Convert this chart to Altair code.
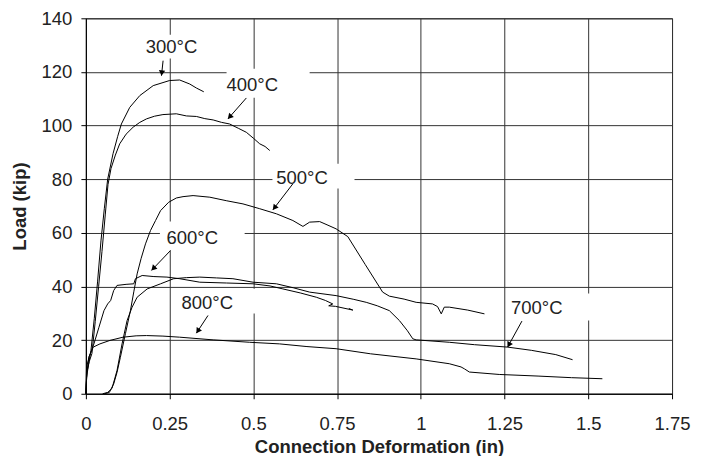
import math
import altair as alt
import pandas as pd

FONT = "Liberation Sans"
FS = 18.5
W, H = 587, 376
XMAX, YMAX = 1.75, 140

# ---- curve data ----
x300 = [0, 0.002, 0.008, 0.015, 0.025, 0.035, 0.045, 0.055, 0.065, 0.081, 0.095, 0.106, 0.131, 0.161, 0.201, 0.25, 0.28, 0.31, 0.33, 0.352]
y300 = [0, 6, 11, 16, 28, 42, 57, 69, 80, 89.5, 96, 100.6, 106.8, 111.2, 114.9, 116.8, 117.0, 115.5, 114.0, 112.6]

x400 = [0, 0.003, 0.01, 0.018, 0.028, 0.038, 0.048, 0.058, 0.066, 0.075, 0.088, 0.101, 0.12, 0.141, 0.161, 0.181, 0.205, 0.23, 0.27, 0.3, 0.33, 0.355, 0.38, 0.405, 0.429, 0.455, 0.479, 0.5, 0.519, 0.535, 0.549]
y400 = [0, 8, 12, 15, 27, 40, 53, 67, 78, 84, 89, 93.2, 96.8, 99.4, 101.2, 102.5, 103.5, 104.1, 104.4, 103.6, 103.4, 102.6, 102.1, 101.2, 100.6, 99.0, 97.5, 95.3, 93.2, 92.2, 90.7]

x500 = [0.055, 0.07, 0.083, 0.093, 0.103, 0.118, 0.133, 0.143, 0.153, 0.165, 0.178, 0.193, 0.208, 0.223, 0.247, 0.27, 0.29, 0.32, 0.37, 0.419, 0.469, 0.519, 0.569, 0.618, 0.648, 0.668, 0.698, 0.72, 0.747, 0.782, 0.834, 0.886, 0.906, 0.95, 0.986, 1.035, 1.05, 1.061, 1.07, 1.085, 1.14, 1.19]
y500 = [0, 0.5, 3.7, 8, 13.6, 22.4, 31, 38, 44.7, 50.5, 55.9, 60.9, 64.6, 68.3, 71.4, 73.0, 73.5, 73.9, 73.3, 72.0, 70.8, 69.0, 67.1, 64.6, 62.4, 64.0, 64.2, 63.0, 61.5, 58.6, 48.2, 37.9, 36.4, 35.3, 34.1, 33.5, 32.5, 29.8, 32.3, 32.3, 31.2, 29.8]

x600 = [0, 0.003, 0.009, 0.024, 0.039, 0.054, 0.065, 0.074, 0.083, 0.093, 0.12, 0.143, 0.148, 0.168, 0.203, 0.242, 0.28, 0.34, 0.42, 0.499, 0.55, 0.588, 0.64, 0.688, 0.715, 0.737, 0.725, 0.745, 0.797, 0.785]
y600 = [0, 8, 13.6, 18.6, 24.8, 31, 33.5, 34.8, 38.5, 40.4, 40.8, 41.0, 42.9, 44.1, 43.7, 43.5, 42.9, 41.6, 41.3, 41.0, 40.2, 39.1, 37.6, 36.0, 34.8, 33.5, 32.8, 32.6, 31.2, 31.8]

x700 = [0.05, 0.065, 0.078, 0.093, 0.108, 0.123, 0.138, 0.153, 0.183, 0.223, 0.262, 0.3, 0.34, 0.39, 0.439, 0.499, 0.569, 0.62, 0.668, 0.747, 0.8, 0.837, 0.87, 0.906, 0.936, 0.96, 0.976, 0.986, 1.085, 1.16, 1.259, 1.33, 1.403, 1.453]
y700 = [0, 0.5, 2, 8.7, 18.6, 27.3, 32.3, 36.0, 39.1, 41.0, 42.9, 43.3, 43.5, 43.2, 42.9, 41.6, 41.0, 39.5, 37.9, 36.6, 35.2, 34.1, 32.8, 31.0, 27.3, 23.5, 20.5, 20.1, 19.2, 18.3, 17.4, 16.2, 14.6, 12.7]

x800 = [0, 0.002, 0.01, 0.022, 0.042, 0.072, 0.111, 0.15, 0.181, 0.23, 0.28, 0.38, 0.489, 0.578, 0.66, 0.747, 0.85, 0.986, 1.085, 1.12, 1.13, 1.145, 1.234, 1.35, 1.45, 1.542]
y800 = [0, 9.9, 14, 17.4, 18.6, 19.9, 21.1, 21.6, 21.7, 21.5, 21.1, 20.1, 19.2, 18.6, 17.6, 16.8, 14.9, 13.0, 11.2, 10.0, 9.3, 8.1, 7.2, 6.6, 6.0, 5.6]

series = [("300", x300, y300), ("400", x400, y400), ("500", x500, y500),
          ("600", x600, y600), ("700", x700, y700), ("800", x800, y800)]

# ---- annotations ----
lab_text = ["300°C", "400°C", "500°C", "600°C", "700°C", "800°C"]
lab_x = [0.2558, 0.4969, 0.6454, 0.3175, 1.3460, 0.3622]
lab_y = [126.9, 113.0, 78.3, 55.9, 29.8, 31.7]
box_x1 = [0.179, 0.420, 0.557, 0.221, 1.255, 0.271]
box_x2 = [0.429, 0.668, 0.802, 0.474, 1.509, 0.519]
box_y1 = [125.0, 110.4, 76.5, 53.4, 27.3, 29.9]
box_y2 = [133.9, 121.2, 85.8, 64.2, 37.4, 39.2]
arr_sx = [0.2305, 0.4791, 0.618, 0.2525, 1.3019, 0.3646]
arr_sy = [124.2, 110.3, 78.3, 53.4, 27.1, 29.2]
arr_tx = [0.2257, 0.4242, 0.5584, 0.1959, 1.259, 0.330]
arr_ty = [118.6, 102.5, 68.6, 46.0, 17.4, 22.6]

x_ticks = [0, 0.25, 0.5, 0.75, 1, 1.25, 1.5, 1.75]
y_ticks = [0, 20, 40, 60, 80, 100, 120, 140]

rows = []
for name, xs, ys in series:
    for i, (xv, yv) in enumerate(zip(xs, ys)):
        rows.append({"series": name, "i": i, "x": xv, "y": yv})
df = pd.DataFrame(rows)

ann = pd.DataFrame({"t": lab_text, "lx": lab_x, "ly": lab_y,
                    "bx1": box_x1, "bx2": box_x2, "by1": box_y1, "by2": box_y2,
                    "sx": arr_sx, "sy": arr_sy, "tx": arr_tx, "ty": arr_ty})
HEAD = 7.0
hx, hy, ang = [], [], []
for sx, sy, tx, ty in zip(arr_sx, arr_sy, arr_tx, arr_ty):
    dxp = (tx - sx) * W / XMAX
    dyp = -(ty - sy) * H / YMAX
    L = math.hypot(dxp, dyp)
    ux, uy = dxp / L, dyp / L
    ang.append(math.degrees(math.atan2(ux, -uy)) % 360)
    hx.append(tx - ux * HEAD / 2 * XMAX / W)
    hy.append(ty + uy * HEAD / 2 * YMAX / H)
ann["hx"] = hx
ann["hy"] = hy
ann["ang"] = ang

xs_ = alt.Scale(domain=[0, XMAX], nice=False, zero=False)
ys_ = alt.Scale(domain=[0, YMAX], nice=False, zero=False)

x_axis = alt.Axis(values=x_ticks, labelExpr="datum.value + ''", title="Connection Deformation (in)",
                  grid=True, tickSize=5, labelPadding=31, labelBaseline="alphabetic",
                  labelFlush=False, labelOverlap=False,
                  titleX=W / 2, titleY=59, titleBaseline="alphabetic", titleAlign="center")
y_axis = alt.Axis(values=y_ticks, labelExpr="datum.value + ''", title="Load (kip)", grid=True,
                  tickSize=5, labelPadding=9, labelFlush=False, labelOverlap=False,
                  titleX=-66, titleY=H / 2, titleAngle=270, titleBaseline="middle",
                  titleAlign="center")


def X(f):
    return alt.X(f, scale=xs_, axis=x_axis, title="Connection Deformation (in)")


def Y(f):
    return alt.Y(f, scale=ys_, axis=y_axis, title="Load (kip)")


boxes = alt.Chart(ann).mark_rect(color="white").encode(
    x=X("bx1:Q"), x2="bx2", y=Y("by1:Q"), y2="by2")

lines = alt.Chart(df).mark_line(color="black", strokeWidth=1).encode(
    x=X("x:Q"), y=Y("y:Q"), detail="series:N", order="i:Q")

texts = alt.Chart(ann).mark_text(align="center", baseline="alphabetic", font=FONT,
                                 fontSize=FS, color="#222").encode(
    x=X("lx:Q"), y=Y("ly:Q"), text="t:N")

arrows = alt.Chart(ann).mark_rule(color="black", strokeWidth=1).encode(
    x=X("sx:Q"), y=Y("sy:Q"), x2="tx", y2="ty")

heads = alt.Chart(ann).mark_point(shape="triangle", filled=True, size=40, color="black",
                                  opacity=1).encode(
    x=X("hx:Q"), y=Y("hy:Q"), angle=alt.Angle("ang:Q", scale=None))

chart = alt.layer(boxes, lines, texts, arrows, heads).properties(
    width=W, height=H,
    autosize=alt.AutoSizeParams(type="none"),
    padding={"left": 78, "top": 10, "right": 25, "bottom": 62},
    background="white",
).configure_axis(
    gridColor="#333", gridWidth=1, domainColor="black", domainWidth=1,
    tickColor="black", tickWidth=1,
    labelFont=FONT, labelFontSize=FS, labelColor="#222",
    titleFont=FONT, titleFontSize=FS, titleFontWeight="bold", titleColor="#222",
).configure_view(stroke="#222", strokeWidth=1)

chart.save("out.html", embed_options={"renderer": "svg", "actions": False})
